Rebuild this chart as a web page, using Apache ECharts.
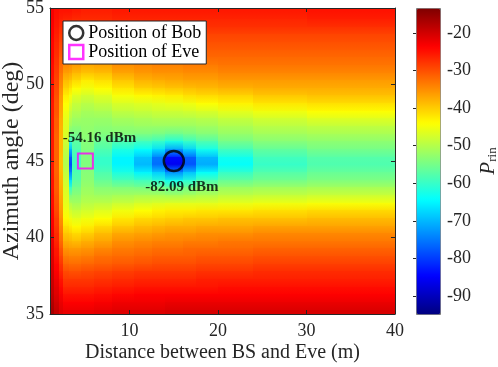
<!DOCTYPE html>
<html>
<head>
<meta charset="utf-8">
<script src="https://cdn.jsdelivr.net/npm/echarts@6/dist/echarts.min.js"></script>
<style>
html, body { margin: 0; padding: 0; background: #fff; }
#chart { width: 498px; height: 367px; }
</style>
</head>
<body>
<div id="chart"></div>
<script>
// cell edges of the received power map (distance in m, azimuth in deg)
var xEdges = [1, 1.5, 2, 2.5, 3.1, 3.5, 4.5, 6, 8, 10.5, 12.5, 14, 16, 17.5, 20, 24, 30, 40];
var yEdges = [55, 54.5, 54, 53.5, 53, 52.5, 52, 51.5, 51, 50.5, 50, 49.5, 49, 48.5, 48, 47.5, 47, 46.5, 46,
    45.5, 45, 44.5, 44, 43.5, 43, 42.5, 42, 41.5, 41, 40.5, 40, 39.5, 39, 38.5, 38, 37.5, 37, 36.5, 36, 35.5, 35];

// P_rin (dBm), one row per azimuth band from top (55) to bottom (35), one value per distance column
var prin = [
    [-23, -24.5, -25, -25, -25, -25.5, -26, -26, -25.5, -25.5, -25.5, -25.5, -25.5, -25.5, -25.5, -25.5, -25],
    [-23, -25, -26, -26.5, -26.5, -27, -27, -27, -26.5, -26.5, -26.5, -26.5, -26.5, -26.5, -26.5, -26.5, -26],
    [-23.5, -25.5, -27, -27.5, -27.5, -28, -28.5, -28, -27.5, -27.5, -27.5, -27.5, -27.5, -27.5, -27.5, -27.5, -27.5],
    [-23.5, -26, -28, -29, -29, -29.5, -30, -29.5, -29, -29, -29, -29, -29, -29, -29, -29, -29],
    [-24, -26.5, -29, -30, -30.5, -31, -31.5, -31, -30.5, -30, -30, -30, -30, -30, -30, -30, -30],
    [-24, -27, -30, -31.5, -32, -32.5, -33, -32.5, -32, -31.5, -31, -31, -31, -31, -31, -31, -31],
    [-24, -27.5, -31, -33, -33.5, -34, -35, -34.5, -33.5, -33, -32.5, -32.5, -32.5, -32, -32, -32, -32],
    [-24.5, -28, -32, -34.5, -35, -36, -37, -36.5, -35, -34.5, -34, -34, -33.5, -33.5, -33, -33, -33],
    [-24.5, -28.5, -33, -36.5, -37, -38.5, -39.5, -39, -37, -36, -35.5, -35.5, -35, -35, -34.5, -34.5, -34.5],
    [-25, -29, -34, -38.5, -39.5, -41, -42.5, -41.5, -39.5, -38, -37.5, -37, -36.5, -36.5, -36, -36, -36],
    [-25, -29.5, -35, -40.5, -42, -44, -45, -44, -42, -40.5, -40, -39.5, -39, -38.5, -38, -37.5, -37.5],
    [-25, -30, -36, -42.5, -44.5, -46.5, -47.5, -46.5, -44.5, -43.5, -43, -42.5, -41.5, -41, -40.5, -39.5, -39],
    [-25.5, -30.5, -36.5, -44, -46.5, -48.5, -49.5, -48.5, -47, -46.5, -46, -45.5, -45, -44, -43, -42, -41.5],
    [-25.5, -30.5, -37, -45, -48.5, -50, -51, -50.5, -49, -48.5, -48, -48, -47.5, -47, -46, -45, -44],
    [-25.5, -31, -37.5, -46, -50, -51.5, -52, -52, -51, -50.5, -50, -50, -50, -49.5, -48.5, -47.5, -46.5],
    [-25.5, -31, -38, -46.5, -52, -53, -52.5, -53, -52.5, -52, -52, -52, -52, -51.5, -50.5, -49.5, -49],
    [-25.5, -31.5, -38, -47, -55, -55, -53, -54, -54, -54.5, -55, -56, -55, -54, -52.5, -51.5, -51],
    [-25.5, -31.5, -38.5, -48, -61, -57, -53.5, -56, -58, -59, -60, -62, -60, -58, -55, -53.5, -53],
    [-25.5, -31.5, -38.5, -49, -70, -58, -54, -58, -62, -64, -67, -72, -68, -63, -59, -56.5, -55],
    [-25.5, -31.5, -39, -50, -77, -59, -54, -60, -65, -69, -75, -84, -77, -70, -63, -59, -57.5],
    [-25.5, -31.5, -39, -50, -79, -59, -54, -60, -65, -70, -76, -86, -78, -71, -64, -60, -58],
    [-25.5, -31.5, -38.5, -49, -74, -58, -53.5, -58, -62, -65, -68, -73, -69, -64, -60, -57.5, -56],
    [-25, -31, -38, -48, -67, -57, -53, -56, -58, -59, -61, -63, -61, -58, -56, -55, -54],
    [-25, -31, -37.5, -47, -60, -55, -52, -53.5, -54, -54.5, -55, -56, -55, -53.5, -52, -51.5, -51],
    [-24.5, -30.5, -37, -46.5, -54, -53, -51, -51.5, -51, -50.5, -50.5, -51, -50.5, -50, -49, -48.5, -48],
    [-24.5, -30, -36.5, -46, -50, -51, -49.5, -49, -48, -47, -46.5, -46, -46, -46, -45.5, -45, -44.5],
    [-24, -29.5, -36, -45, -47.5, -48.5, -47.5, -46.5, -45, -44, -43, -42.5, -42.5, -42, -42, -41.5, -41],
    [-23.5, -28.5, -35, -43.5, -45, -46, -45, -44, -42, -41, -40.5, -40, -39.5, -39.5, -39, -39, -38.5],
    [-23, -28, -34, -41.5, -42.5, -43.5, -42.5, -41, -39.5, -38.5, -38, -37.5, -37.5, -37, -37, -36.5, -36.5],
    [-22.5, -27, -33, -39.5, -40, -41, -40, -38.5, -37, -36.5, -36, -35.5, -35.5, -35, -35, -34.5, -34.5],
    [-22, -26.5, -32, -37.5, -38, -38.5, -37.5, -36.5, -35, -34.5, -34, -34, -33.5, -33.5, -33, -33, -33],
    [-21.5, -25.5, -30.5, -35.5, -36, -36, -35.5, -34.5, -33.5, -33, -32.5, -32.5, -32, -32, -32, -31.5, -31.5],
    [-21, -25, -29, -33.5, -34, -34, -33.5, -32.5, -32, -31.5, -31, -31, -31, -30.5, -30.5, -30, -30],
    [-20.5, -24, -27.5, -31.5, -32, -32, -31.5, -31, -30.5, -30, -29.5, -29.5, -29.5, -29, -29, -28.5, -28.5],
    [-20, -23.5, -26.5, -29.5, -30, -30, -29.5, -29, -28.5, -28, -28, -28, -28, -27.5, -27.5, -27, -27],
    [-19.5, -22.5, -25, -28, -28, -28, -28, -27.5, -27, -26.5, -26.5, -26.5, -26.5, -26, -26, -26, -26],
    [-19, -21.5, -24, -26.5, -26.5, -26.5, -26.5, -26, -25.5, -25, -25, -25, -25, -25, -24.5, -24.5, -24.5],
    [-18.5, -21, -23, -25, -25, -25, -25, -24.5, -24, -23.5, -23.5, -23.5, -23.5, -23.5, -23.5, -23.5, -23.5],
    [-17.5, -20, -22, -23.5, -23.5, -23.5, -23.5, -23, -22.5, -22.5, -22.5, -22, -22, -22, -22, -22, -22],
    [-16.5, -19, -21, -22, -22, -22, -22, -21.5, -21, -21, -21, -20.5, -20.5, -20.5, -20.5, -20.5, -20.5]
];

var xTicks = [10, 20, 30, 40];
var cbarTicks = [-90, -80, -70, -60, -50, -40, -30, -20];
var cbarMin = -94.8;
var cbarMax = -13.4;

var bobPos = [[15, 45]];
var evePos = [[5, 45]];
var notes = [
    { value: [6.6, 46.5], text: '-54.16 dBm' },
    { value: [15.9, 43.3], text: '-82.09 dBm' }
];

var jet = ['#00007f', '#0000ff', '#007fff', '#00ffff', '#7fff7f', '#ffff00', '#ff7f00', '#ff0000', '#7f0000'];
var serif = 'Liberation Serif';
var axisColor = '#262626';

var nCols = xEdges.length - 1;
var nRows = yEdges.length - 1;
var cells = [];
for (var r = 0; r < nRows; r++) {
    for (var c = 0; c < nCols; c++) {
        cells.push([xEdges[c], xEdges[c + 1], yEdges[r + 1], yEdges[r], prin[r][c]]);
    }
}

// each cell is shaded from its own colour (at the band centre) to the colour of the band below
function renderCell(params, api) {
    var idx = params.dataIndexInside;
    var r = Math.floor(idx / nCols);
    var x0 = api.value(0), x1 = api.value(1);
    var yTop = api.value(3), yBot = api.value(2);
    var yMid = (yTop + yBot) / 2;
    var left = Math.round(api.coord([x0, yMid])[0]);
    var right = Math.round(api.coord([x1, yMid])[0]);
    var pTop = Math.round(api.coord([x0, yTop])[1]);
    var pMid = api.coord([x0, yMid])[1];
    var pBot = Math.round(api.coord([x0, yBot])[1]);
    var col = api.visual('color');
    var children = [];
    if (r === 0) {
        children.push({ type: 'rect', shape: { x: left, y: pTop, width: right - left, height: Math.ceil(pMid) - pTop + 1 }, style: { fill: col } });
    }
    if (r < nRows - 1) {
        var colBelow = api.visual('color', idx + nCols);
        var yMidBelow = (yEdges[r + 1] + yEdges[r + 2]) / 2;
        var pMidBelow = api.coord([x0, yMidBelow])[1];
        var top = Math.floor(pMid);
        var bot = Math.ceil(pMidBelow);
        children.push({
            type: 'rect',
            shape: { x: left, y: top, width: right - left, height: bot - top + 1 },
            style: {
                fill: new echarts.graphic.LinearGradient(0, 0, 0, 1, [
                    { offset: 0, color: col },
                    { offset: 1, color: colBelow }
                ])
            }
        });
    } else {
        children.push({ type: 'rect', shape: { x: left, y: Math.floor(pMid), width: right - left, height: pBot - Math.floor(pMid) }, style: { fill: col } });
    }
    return { type: 'group', children: children };
}

var chart = echarts.init(document.getElementById('chart'), null, { renderer: 'canvas' });

var frameAxis = function (extra) {
    var base = {
        type: 'value',
        z: 5,
        axisLine: { show: true, onZero: false, lineStyle: { color: axisColor, width: 1 } },
        axisTick: { show: true, inside: true, length: 4, lineStyle: { color: axisColor } },
        axisLabel: { show: false },
        splitLine: { show: false }
    };
    return Object.assign(base, extra);
};

chart.setOption({
    animation: false,
    textStyle: { fontFamily: serif },
    grid: [
        { left: 50, top: 8, width: 345, height: 306, outerBoundsMode: 'none', containLabel: false },
        { left: 416, top: 8, width: 24, height: 306, outerBoundsMode: 'none', containLabel: false }
    ],
    xAxis: [
        frameAxis({
            gridIndex: 0, position: 'bottom', min: 1, max: 40,
            axisTick: { show: true, inside: true, length: 4, customValues: xTicks, lineStyle: { color: axisColor } },
            axisLabel: { show: true, customValues: xTicks, fontSize: 18, color: axisColor, margin: 8, fontFamily: serif },
            name: 'Distance between BS and Eve (m)', nameLocation: 'middle', nameGap: 29, nameMoveOverlap: false,
            nameTextStyle: { fontSize: 20, color: axisColor, fontFamily: serif }
        }),
        frameAxis({
            gridIndex: 0, position: 'top', min: 1, max: 40,
            axisTick: { show: true, inside: true, length: 4, customValues: xTicks, lineStyle: { color: axisColor } }
        }),
        { gridIndex: 1, type: 'value', show: false, min: 0, max: 1 }
    ],
    yAxis: [
        frameAxis({
            gridIndex: 0, position: 'left', min: 35, max: 55, interval: 5,
            axisLabel: { show: true, fontSize: 18, color: axisColor, margin: 6, fontFamily: serif },
            name: 'Azimuth angle (deg)', nameLocation: 'middle', nameGap: 26, nameMoveOverlap: false,
            nameTextStyle: { fontSize: 24, color: axisColor, fontFamily: serif }
        }),
        frameAxis({ gridIndex: 0, position: 'right', min: 35, max: 55, interval: 5 }),
        {
            gridIndex: 1, type: 'value', position: 'right', min: cbarMin, max: cbarMax, z: 5,
            axisLine: { show: false },
            axisTick: { show: true, inside: true, length: 3, customValues: cbarTicks, lineStyle: { color: axisColor } },
            axisLabel: { show: true, customValues: cbarTicks, fontSize: 18, color: axisColor, margin: 7, fontFamily: serif },
            splitLine: { show: false },
            name: '{p|P}{s|rin}', nameLocation: 'middle', nameGap: 38, nameRotate: 90, nameMoveOverlap: false,
            nameTextStyle: {
                color: axisColor,
                rich: {
                    p: { fontSize: 21, fontStyle: 'italic', fontFamily: serif, color: axisColor },
                    s: { fontSize: 13, fontFamily: serif, color: axisColor, verticalAlign: 'bottom', padding: [8, 0, 0, 0] }
                }
            }
        }
    ],
    visualMap: {
        type: 'continuous',
        seriesIndex: 0,
        dimension: 4,
        min: cbarMin,
        max: cbarMax,
        inRange: { color: jet },
        calculable: false,
        hoverLink: false,
        left: 416,
        top: 8,
        itemWidth: 24,
        itemHeight: 306,
        padding: 0,
        borderColor: '#777',
        borderWidth: 1
    },
    legend: {
        left: 63,
        top: 21,
        orient: 'vertical',
        padding: [3, 5, 3, 5],
        itemGap: 1,
        itemWidth: 14,
        itemHeight: 14,
        backgroundColor: '#fff',
        borderColor: axisColor,
        borderWidth: 1,
        textStyle: { fontSize: 18, color: '#000', fontFamily: serif },
        data: [
            { name: 'Position of Bob', icon: 'circle', itemStyle: { color: 'transparent', borderColor: '#000', borderWidth: 2.5 } },
            { name: 'Position of Eve', icon: 'rect', itemStyle: { color: 'transparent', borderColor: '#ff00ff', borderWidth: 2.5 } }
        ]
    },
    series: [
        {
            type: 'custom',
            name: 'P_rin',
            xAxisIndex: 0,
            yAxisIndex: 0,
            renderItem: renderCell,
            encode: { x: [0, 1], y: [2, 3] },
            clip: true,
            silent: true,
            data: cells
        },
        {
            type: 'scatter',
            name: 'Position of Bob',
            xAxisIndex: 0,
            yAxisIndex: 0,
            symbol: 'circle',
            symbolSize: 20,
            z: 6,
            itemStyle: { color: 'transparent', borderColor: '#000', borderWidth: 2.5 },
            data: bobPos
        },
        {
            type: 'scatter',
            name: 'Position of Eve',
            xAxisIndex: 0,
            yAxisIndex: 0,
            symbol: 'rect',
            symbolSize: 15,
            z: 6,
            itemStyle: { color: 'transparent', borderColor: '#ff00ff', borderWidth: 2 },
            data: evePos
        },
        {
            type: 'scatter',
            name: 'notes',
            xAxisIndex: 0,
            yAxisIndex: 0,
            symbolSize: 1,
            z: 7,
            itemStyle: { color: 'transparent' },
            label: {
                show: true,
                position: 'inside',
                formatter: function (p) { return notes[p.dataIndex].text; },
                fontSize: 15,
                fontWeight: 'bold',
                color: '#000',
                fontFamily: serif
            },
            data: notes.map(function (n) { return n.value; })
        }
    ]
});
</script>
</body>
</html>
